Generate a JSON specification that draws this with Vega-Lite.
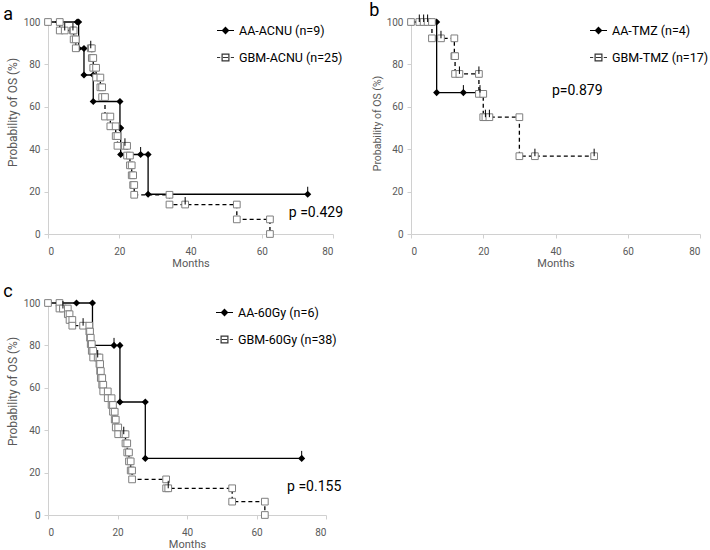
{
  "$schema": "https://vega.github.io/schema/vega-lite/v6.json",
  "background": "white",
  "padding": {"left": 3, "top": 1, "right": 2, "bottom": 0},
  "config": {
    "font": "Roboto",
    "view": {"stroke": null},
    "axis": {"grid": false, "domainColor": "#d0d0d0", "tickColor": "#d0d0d0", "tickSize": 4, "labelColor": "#595959", "labelFont": "Roboto", "labelFontSize": 10, "titleColor": "#595959", "titleFont": "Roboto", "titleFontWeight": "normal"},
    "axisX": {"labelPadding": 8, "titlePadding": 1, "titleFontSize": 11},
    "axisY": {"labelPadding": 4, "titlePadding": 4, "titleFontSize": 12},
    "title": {"anchor": "start", "frame": "bounds", "fontSize": 18, "fontWeight": "normal", "font": "Roboto", "color": "black", "offset": -7},
    "legend": {"orient": "none", "title": null, "padding": 0, "symbolSize": 289, "labelFont": "Roboto", "labelFontSize": 12.5, "labelColor": "black", "labelOffset": 4, "rowPadding": 11, "symbolStrokeColor": "black", "symbolStrokeWidth": 1.2, "symbolOpacity": 1}
  },
  "resolve": {"scale": {"shape": "independent", "fill": "independent", "stroke": "independent", "strokeDash": "independent", "x": "independent", "y": "independent"}, "legend": {"shape": "independent", "fill": "independent", "stroke": "independent"}},
  "datasets": {
    "km": [
      {"p":"a","g":"AA","t":0,"s":100,"c":0},
      {"p":"a","g":"AA","t":8.2,"s":100,"c":0},
      {"p":"a","g":"AA","t":8.6,"s":100,"c":0},
      {"p":"a","g":"AA","t":8.6,"s":87.5,"c":0},
      {"p":"a","g":"AA","t":10.1,"s":87.5,"c":0},
      {"p":"a","g":"AA","t":10.1,"s":75,"c":0},
      {"p":"a","g":"AA","t":12.7,"s":75,"c":0},
      {"p":"a","g":"AA","t":12.7,"s":62.5,"c":0},
      {"p":"a","g":"AA","t":20.2,"s":62.5,"c":0},
      {"p":"a","g":"AA","t":20.2,"s":50,"c":0},
      {"p":"a","g":"AA","t":20.4,"s":50,"c":0},
      {"p":"a","g":"AA","t":20.4,"s":37.5,"c":0},
      {"p":"a","g":"AA","t":26,"s":37.5,"c":1},
      {"p":"a","g":"AA","t":28.1,"s":37.5,"c":0},
      {"p":"a","g":"AA","t":28.1,"s":18.75,"c":0},
      {"p":"a","g":"AA","t":72.9,"s":18.75,"c":1},

      {"p":"a","g":"GBM","t":0,"s":100,"c":0},
      {"p":"a","g":"GBM","t":3.3,"s":100,"c":0},
      {"p":"a","g":"GBM","t":3.3,"s":96,"c":0},
      {"p":"a","g":"GBM","t":4.7,"s":96,"c":1},
      {"p":"a","g":"GBM","t":7.0,"s":96,"c":1},
      {"p":"a","g":"GBM","t":7.2,"s":96,"c":0},
      {"p":"a","g":"GBM","t":7.2,"s":91.8,"c":0},
      {"p":"a","g":"GBM","t":7.8,"s":91.8,"c":0},
      {"p":"a","g":"GBM","t":7.8,"s":87.6,"c":0},
      {"p":"a","g":"GBM","t":12.0,"s":87.6,"c":1},
      {"p":"a","g":"GBM","t":12.3,"s":87.6,"c":0},
      {"p":"a","g":"GBM","t":12.3,"s":83.0,"c":0},
      {"p":"a","g":"GBM","t":12.7,"s":83.0,"c":0},
      {"p":"a","g":"GBM","t":12.7,"s":78.4,"c":0},
      {"p":"a","g":"GBM","t":13.5,"s":78.4,"c":0},
      {"p":"a","g":"GBM","t":13.5,"s":73.8,"c":0},
      {"p":"a","g":"GBM","t":14.7,"s":73.8,"c":0},
      {"p":"a","g":"GBM","t":14.7,"s":69.2,"c":0},
      {"p":"a","g":"GBM","t":15.2,"s":69.2,"c":0},
      {"p":"a","g":"GBM","t":15.2,"s":64.6,"c":0},
      {"p":"a","g":"GBM","t":16.0,"s":64.6,"c":0},
      {"p":"a","g":"GBM","t":16.0,"s":55.4,"c":0},
      {"p":"a","g":"GBM","t":17.5,"s":55.4,"c":0},
      {"p":"a","g":"GBM","t":17.5,"s":50.8,"c":0},
      {"p":"a","g":"GBM","t":19.0,"s":50.8,"c":0},
      {"p":"a","g":"GBM","t":19.0,"s":46.2,"c":0},
      {"p":"a","g":"GBM","t":19.5,"s":46.2,"c":0},
      {"p":"a","g":"GBM","t":19.5,"s":41.6,"c":0},
      {"p":"a","g":"GBM","t":21.6,"s":41.6,"c":1},
      {"p":"a","g":"GBM","t":22.2,"s":41.6,"c":0},
      {"p":"a","g":"GBM","t":22.2,"s":37.0,"c":0},
      {"p":"a","g":"GBM","t":23.0,"s":37.0,"c":0},
      {"p":"a","g":"GBM","t":23.0,"s":32.4,"c":0},
      {"p":"a","g":"GBM","t":23.5,"s":32.4,"c":0},
      {"p":"a","g":"GBM","t":23.5,"s":27.7,"c":0},
      {"p":"a","g":"GBM","t":23.9,"s":27.7,"c":0},
      {"p":"a","g":"GBM","t":23.9,"s":23.1,"c":0},
      {"p":"a","g":"GBM","t":24.2,"s":23.1,"c":0},
      {"p":"a","g":"GBM","t":24.2,"s":18.5,"c":0},
      {"p":"a","g":"GBM","t":34.1,"s":18.5,"c":0},
      {"p":"a","g":"GBM","t":34.1,"s":13.9,"c":0},
      {"p":"a","g":"GBM","t":38.5,"s":13.9,"c":1},
      {"p":"a","g":"GBM","t":53.0,"s":13.9,"c":0},
      {"p":"a","g":"GBM","t":53.0,"s":6.9,"c":0},
      {"p":"a","g":"GBM","t":62.3,"s":6.9,"c":0},
      {"p":"a","g":"GBM","t":62.3,"s":0,"c":0},

      {"p":"b","g":"AA","t":0,"s":100,"c":0},
      {"p":"b","g":"AA","t":7.1,"s":100,"c":0},
      {"p":"b","g":"AA","t":7.1,"s":66.7,"c":0},
      {"p":"b","g":"AA","t":14.5,"s":66.7,"c":1},
      {"p":"b","g":"AA","t":19.1,"s":66.7,"c":1},

      {"p":"b","g":"GBM","t":0,"s":100,"c":0},
      {"p":"b","g":"GBM","t":2.3,"s":100,"c":1},
      {"p":"b","g":"GBM","t":3.5,"s":100,"c":1},
      {"p":"b","g":"GBM","t":4.6,"s":100,"c":1},
      {"p":"b","g":"GBM","t":5.8,"s":100,"c":0},
      {"p":"b","g":"GBM","t":5.8,"s":92.3,"c":0},
      {"p":"b","g":"GBM","t":8.3,"s":92.3,"c":1},
      {"p":"b","g":"GBM","t":12.0,"s":92.3,"c":0},
      {"p":"b","g":"GBM","t":12.0,"s":83.9,"c":0},
      {"p":"b","g":"GBM","t":12.2,"s":83.9,"c":0},
      {"p":"b","g":"GBM","t":12.2,"s":75.5,"c":0},
      {"p":"b","g":"GBM","t":13.4,"s":75.5,"c":1},
      {"p":"b","g":"GBM","t":18.8,"s":75.5,"c":1},
      {"p":"b","g":"GBM","t":18.8,"s":66.1,"c":0},
      {"p":"b","g":"GBM","t":20.0,"s":66.1,"c":0},
      {"p":"b","g":"GBM","t":20.0,"s":55.1,"c":0},
      {"p":"b","g":"GBM","t":20.6,"s":55.1,"c":1},
      {"p":"b","g":"GBM","t":21.7,"s":55.1,"c":1},
      {"p":"b","g":"GBM","t":30.0,"s":55.1,"c":0},
      {"p":"b","g":"GBM","t":30.0,"s":36.7,"c":0},
      {"p":"b","g":"GBM","t":34.3,"s":36.7,"c":1},
      {"p":"b","g":"GBM","t":50.7,"s":36.7,"c":1},

      {"p":"c","g":"AA","t":0,"s":100,"c":0},
      {"p":"c","g":"AA","t":8.2,"s":100,"c":0},
      {"p":"c","g":"AA","t":12.8,"s":100,"c":0},
      {"p":"c","g":"AA","t":12.8,"s":80,"c":0},
      {"p":"c","g":"AA","t":19.0,"s":80,"c":1},
      {"p":"c","g":"AA","t":20.7,"s":80,"c":0},
      {"p":"c","g":"AA","t":20.7,"s":53.3,"c":0},
      {"p":"c","g":"AA","t":28.0,"s":53.3,"c":0},
      {"p":"c","g":"AA","t":28.0,"s":26.7,"c":0},
      {"p":"c","g":"AA","t":73.0,"s":26.7,"c":1},

      {"p":"c","g":"GBM","t":0,"s":100,"c":0},
      {"p":"c","g":"GBM","t":3.3,"s":100,"c":0},
      {"p":"c","g":"GBM","t":3.3,"s":97.4,"c":0},
      {"p":"c","g":"GBM","t":4.3,"s":97.4,"c":1},
      {"p":"c","g":"GBM","t":5.7,"s":97.4,"c":0},
      {"p":"c","g":"GBM","t":5.7,"s":94.7,"c":0},
      {"p":"c","g":"GBM","t":6.2,"s":94.7,"c":0},
      {"p":"c","g":"GBM","t":6.2,"s":92.0,"c":0},
      {"p":"c","g":"GBM","t":7.0,"s":92.0,"c":0},
      {"p":"c","g":"GBM","t":7.0,"s":89.3,"c":0},
      {"p":"c","g":"GBM","t":10.1,"s":89.3,"c":1},
      {"p":"c","g":"GBM","t":11.9,"s":89.3,"c":0},
      {"p":"c","g":"GBM","t":11.9,"s":86.5,"c":0},
      {"p":"c","g":"GBM","t":12.1,"s":86.5,"c":0},
      {"p":"c","g":"GBM","t":12.1,"s":83.6,"c":0},
      {"p":"c","g":"GBM","t":12.3,"s":83.6,"c":0},
      {"p":"c","g":"GBM","t":12.3,"s":80.6,"c":0},
      {"p":"c","g":"GBM","t":12.6,"s":80.6,"c":0},
      {"p":"c","g":"GBM","t":12.6,"s":77.4,"c":0},
      {"p":"c","g":"GBM","t":13.0,"s":77.4,"c":0},
      {"p":"c","g":"GBM","t":13.0,"s":74.3,"c":0},
      {"p":"c","g":"GBM","t":14.3,"s":74.3,"c":1},
      {"p":"c","g":"GBM","t":14.8,"s":74.3,"c":0},
      {"p":"c","g":"GBM","t":14.8,"s":71.2,"c":0},
      {"p":"c","g":"GBM","t":15.0,"s":71.2,"c":0},
      {"p":"c","g":"GBM","t":15.0,"s":67.9,"c":0},
      {"p":"c","g":"GBM","t":15.2,"s":67.9,"c":0},
      {"p":"c","g":"GBM","t":15.2,"s":64.6,"c":0},
      {"p":"c","g":"GBM","t":15.6,"s":64.6,"c":0},
      {"p":"c","g":"GBM","t":15.6,"s":61.4,"c":0},
      {"p":"c","g":"GBM","t":15.9,"s":61.4,"c":0},
      {"p":"c","g":"GBM","t":15.9,"s":58.3,"c":0},
      {"p":"c","g":"GBM","t":17.2,"s":58.3,"c":0},
      {"p":"c","g":"GBM","t":17.2,"s":55.1,"c":0},
      {"p":"c","g":"GBM","t":18.3,"s":55.1,"c":0},
      {"p":"c","g":"GBM","t":18.3,"s":51.9,"c":0},
      {"p":"c","g":"GBM","t":18.7,"s":51.9,"c":0},
      {"p":"c","g":"GBM","t":18.7,"s":48.7,"c":0},
      {"p":"c","g":"GBM","t":19.2,"s":48.7,"c":0},
      {"p":"c","g":"GBM","t":19.2,"s":45.0,"c":0},
      {"p":"c","g":"GBM","t":19.5,"s":45.0,"c":0},
      {"p":"c","g":"GBM","t":19.5,"s":41.3,"c":0},
      {"p":"c","g":"GBM","t":20.2,"s":41.3,"c":0},
      {"p":"c","g":"GBM","t":20.2,"s":38.1,"c":0},
      {"p":"c","g":"GBM","t":21.8,"s":38.1,"c":1},
      {"p":"c","g":"GBM","t":22.3,"s":38.1,"c":0},
      {"p":"c","g":"GBM","t":22.3,"s":33.8,"c":0},
      {"p":"c","g":"GBM","t":22.8,"s":33.8,"c":0},
      {"p":"c","g":"GBM","t":22.8,"s":29.5,"c":0},
      {"p":"c","g":"GBM","t":23.3,"s":29.5,"c":0},
      {"p":"c","g":"GBM","t":23.3,"s":25.3,"c":0},
      {"p":"c","g":"GBM","t":23.8,"s":25.3,"c":0},
      {"p":"c","g":"GBM","t":23.8,"s":21.0,"c":0},
      {"p":"c","g":"GBM","t":24.2,"s":21.0,"c":0},
      {"p":"c","g":"GBM","t":24.2,"s":16.8,"c":0},
      {"p":"c","g":"GBM","t":34.0,"s":16.8,"c":0},
      {"p":"c","g":"GBM","t":34.0,"s":12.6,"c":0},
      {"p":"c","g":"GBM","t":34.6,"s":12.6,"c":1},
      {"p":"c","g":"GBM","t":53.0,"s":12.6,"c":0},
      {"p":"c","g":"GBM","t":53.0,"s":6.3,"c":0},
      {"p":"c","g":"GBM","t":62.4,"s":6.3,"c":0},
      {"p":"c","g":"GBM","t":62.4,"s":0,"c":0}
    ],
    "leg": [
      {"p":"a","lab":"AA-ACNU (n=9)"},
      {"p":"a","lab":"GBM-ACNU (n=25)"},
      {"p":"b","lab":"AA-TMZ (n=4)"},
      {"p":"b","lab":"GBM-TMZ (n=17)"},
      {"p":"c","lab":"AA-60Gy (n=6)"},
      {"p":"c","lab":"GBM-60Gy (n=38)"}
    ]
  },
  "vconcat": [
    {
      "resolve": {"scale": {"shape": "independent", "fill": "independent", "stroke": "independent", "strokeDash": "independent", "x": "independent", "y": "independent"}, "legend": {"shape": "independent", "fill": "independent", "stroke": "independent"}},
      "hconcat": [
        {
          "width": 285, "height": 212,
          "title": {"text": "a", "dx": -3},
          "layer": [
            {"data": {"name": "km"}, "transform": [{"filter": "datum.p == 'a'"}],
             "mark": {"type": "line", "color": "black", "strokeWidth": 1.3},
             "encoding": {
               "x": {"field": "t", "type": "quantitative", "scale": {"domain": [0, 80], "nice": false}, "axis": {"title": "Months", "values": [0, 20, 40, 60, 80]}},
               "y": {"field": "s", "type": "quantitative", "scale": {"domain": [0, 100], "nice": false}, "axis": {"title": "Probability of OS (%)", "titleY": 90, "values": [0, 10, 20, 30, 40, 50, 60, 70, 80, 90, 100]}},
               "strokeDash": {"field": "g", "type": "nominal", "scale": {"domain": ["AA", "GBM"], "range": [[1, 0], [4, 3]]}, "legend": null},
               "order": {"value": null}
             }},
            {"data": {"name": "km"}, "transform": [{"filter": "datum.p == 'a' && datum.g == 'AA'"}],
             "mark": {"type": "point", "shape": "diamond", "filled": true, "color": "black", "size": 50, "opacity": 1},
             "encoding": {"x": {"field": "t", "type": "quantitative"}, "y": {"field": "s", "type": "quantitative"}}},
            {"data": {"name": "km"}, "transform": [{"filter": "datum.p == 'a' && datum.g == 'GBM'"}],
             "mark": {"type": "point", "shape": "square", "filled": true, "fill": "white", "stroke": "#7f7f7f", "strokeWidth": 1, "size": 45, "opacity": 1},
             "encoding": {"x": {"field": "t", "type": "quantitative"}, "y": {"field": "s", "type": "quantitative"}}},
            {"data": {"name": "km"}, "transform": [{"filter": "datum.p == 'a' && datum.c == 1"}],
             "mark": {"type": "point", "shape": "M0,0V-1", "filled": false, "stroke": "black", "strokeWidth": 1, "size": 225, "opacity": 1},
             "encoding": {"x": {"field": "t", "type": "quantitative"}, "y": {"field": "s", "type": "quantitative"}}},
            {"data": {"values": [{}]},
             "mark": {"type": "text", "align": "left", "baseline": "middle", "fontSize": 14, "font": "Roboto", "color": "black"},
             "encoding": {"x": {"datum": 67.6}, "y": {"datum": 10}, "text": {"value": "p =0.429"}}},
            {"data": {"name": "leg"}, "transform": [{"filter": "datum.p == 'a'"}, {"filter": "false"}],
             "mark": {"type": "point", "filled": true, "strokeWidth": 1.2, "opacity": 1},
             "encoding": {
               "shape": {"field": "lab", "type": "nominal", "scale": {"domain": ["AA-ACNU (n=9)", "GBM-ACNU (n=25)"], "range": ["M-1,0H1M0,-0.36L0.36,0L0,0.36L-0.36,0Z", "M-1,0H-0.62M-0.3,0H0.3M0.62,0H1M-0.4,-0.4H0.4V0.4H-0.4Z"]}, "legend": {"legendX": 168, "legendY": -1}},
               "fill": {"field": "lab", "type": "nominal", "scale": {"domain": ["AA-ACNU (n=9)", "GBM-ACNU (n=25)"], "range": ["black", "white"]}, "legend": {"legendX": 168, "legendY": -1}},
               "stroke": {"field": "lab", "type": "nominal", "scale": {"domain": ["AA-ACNU (n=9)", "GBM-ACNU (n=25)"], "range": ["black", "#333333"]}, "legend": {"legendX": 168, "legendY": -1}}
             }}
          ]
        },
        {
          "width": 289, "height": 212,
          "title": {"text": "b", "dx": -3},
          "layer": [
            {"data": {"name": "km"}, "transform": [{"filter": "datum.p == 'b'"}],
             "mark": {"type": "line", "color": "black", "strokeWidth": 1.3},
             "encoding": {
               "x": {"field": "t", "type": "quantitative", "scale": {"domain": [0, 80], "nice": false}, "axis": {"title": "Months", "values": [0, 20, 40, 60, 80]}},
               "y": {"field": "s", "type": "quantitative", "scale": {"domain": [0, 100], "nice": false}, "axis": {"title": "Probability of OS (%)", "titleFontSize": 10.5, "titleY": 101, "values": [0, 10, 20, 30, 40, 50, 60, 70, 80, 90, 100]}},
               "strokeDash": {"field": "g", "type": "nominal", "scale": {"domain": ["AA", "GBM"], "range": [[1, 0], [4, 3]]}, "legend": null},
               "order": {"value": null}
             }},
            {"data": {"name": "km"}, "transform": [{"filter": "datum.p == 'b' && datum.g == 'AA'"}],
             "mark": {"type": "point", "shape": "diamond", "filled": true, "color": "black", "size": 50, "opacity": 1},
             "encoding": {"x": {"field": "t", "type": "quantitative"}, "y": {"field": "s", "type": "quantitative"}}},
            {"data": {"name": "km"}, "transform": [{"filter": "datum.p == 'b' && datum.g == 'GBM'"}],
             "mark": {"type": "point", "shape": "square", "filled": true, "fill": "white", "stroke": "#7f7f7f", "strokeWidth": 1, "size": 45, "opacity": 1},
             "encoding": {"x": {"field": "t", "type": "quantitative"}, "y": {"field": "s", "type": "quantitative"}}},
            {"data": {"name": "km"}, "transform": [{"filter": "datum.p == 'b' && datum.c == 1"}],
             "mark": {"type": "point", "shape": "M0,0V-1", "filled": false, "stroke": "black", "strokeWidth": 1, "size": 225, "opacity": 1},
             "encoding": {"x": {"field": "t", "type": "quantitative"}, "y": {"field": "s", "type": "quantitative"}}},
            {"data": {"values": [{}]},
             "mark": {"type": "text", "align": "left", "baseline": "middle", "fontSize": 14, "font": "Roboto", "color": "black"},
             "encoding": {"x": {"datum": 39.0}, "y": {"datum": 67.6}, "text": {"value": "p=0.879"}}},
            {"data": {"name": "leg"}, "transform": [{"filter": "datum.p == 'b'"}, {"filter": "false"}],
             "mark": {"type": "point", "filled": true, "strokeWidth": 1.2, "opacity": 1},
             "encoding": {
               "shape": {"field": "lab", "type": "nominal", "scale": {"domain": ["AA-TMZ (n=4)", "GBM-TMZ (n=17)"], "range": ["M-1,0H1M0,-0.36L0.36,0L0,0.36L-0.36,0Z", "M-1,0H-0.62M-0.3,0H0.3M0.62,0H1M-0.4,-0.4H0.4V0.4H-0.4Z"]}, "legend": {"legendX": 178, "legendY": -1}},
               "fill": {"field": "lab", "type": "nominal", "scale": {"domain": ["AA-TMZ (n=4)", "GBM-TMZ (n=17)"], "range": ["black", "white"]}, "legend": {"legendX": 178, "legendY": -1}},
               "stroke": {"field": "lab", "type": "nominal", "scale": {"domain": ["AA-TMZ (n=4)", "GBM-TMZ (n=17)"], "range": ["black", "#333333"]}, "legend": {"legendX": 178, "legendY": -1}}
             }}
          ]
        }
      ],
      "spacing": 25
    },
    {
      "width": 278, "height": 212,
      "title": {"text": "c", "dx": -3, "dy": -4},
      "layer": [
        {"data": {"name": "km"}, "transform": [{"filter": "datum.p == 'c'"}],
         "mark": {"type": "line", "color": "black", "strokeWidth": 1.3},
         "encoding": {
           "x": {"field": "t", "type": "quantitative", "scale": {"domain": [0, 80], "nice": false}, "axis": {"title": "Months", "values": [0, 20, 40, 60, 80]}},
           "y": {"field": "s", "type": "quantitative", "scale": {"domain": [0, 100], "nice": false}, "axis": {"title": "Probability of OS (%)", "titleY": 88, "values": [0, 10, 20, 30, 40, 50, 60, 70, 80, 90, 100]}},
           "strokeDash": {"field": "g", "type": "nominal", "scale": {"domain": ["AA", "GBM"], "range": [[1, 0], [4, 3]]}, "legend": null},
           "order": {"value": null}
         }},
        {"data": {"name": "km"}, "transform": [{"filter": "datum.p == 'c' && datum.g == 'AA'"}],
         "mark": {"type": "point", "shape": "diamond", "filled": true, "color": "black", "size": 50, "opacity": 1},
         "encoding": {"x": {"field": "t", "type": "quantitative"}, "y": {"field": "s", "type": "quantitative"}}},
        {"data": {"name": "km"}, "transform": [{"filter": "datum.p == 'c' && datum.g == 'GBM'"}],
         "mark": {"type": "point", "shape": "square", "filled": true, "fill": "white", "stroke": "#7f7f7f", "strokeWidth": 1, "size": 45, "opacity": 1},
         "encoding": {"x": {"field": "t", "type": "quantitative"}, "y": {"field": "s", "type": "quantitative"}}},
        {"data": {"name": "km"}, "transform": [{"filter": "datum.p == 'c' && datum.c == 1"}],
         "mark": {"type": "point", "shape": "M0,0V-1", "filled": false, "stroke": "black", "strokeWidth": 1, "size": 225, "opacity": 1},
         "encoding": {"x": {"field": "t", "type": "quantitative"}, "y": {"field": "s", "type": "quantitative"}}},
        {"data": {"values": [{}]},
         "mark": {"type": "text", "align": "left", "baseline": "middle", "fontSize": 14, "font": "Roboto", "color": "black"},
         "encoding": {"x": {"datum": 68.8}, "y": {"datum": 13.2}, "text": {"value": "p =0.155"}}},
        {"data": {"name": "leg"}, "transform": [{"filter": "datum.p == 'c'"}, {"filter": "false"}],
         "mark": {"type": "point", "filled": true, "strokeWidth": 1.2, "opacity": 1},
         "encoding": {
           "shape": {"field": "lab", "type": "nominal", "scale": {"domain": ["AA-60Gy (n=6)", "GBM-60Gy (n=38)"], "range": ["M-1,0H1M0,-0.36L0.36,0L0,0.36L-0.36,0Z", "M-1,0H-0.62M-0.3,0H0.3M0.62,0H1M-0.4,-0.4H0.4V0.4H-0.4Z"]}, "legend": {"legendX": 167, "legendY": 0}},
           "fill": {"field": "lab", "type": "nominal", "scale": {"domain": ["AA-60Gy (n=6)", "GBM-60Gy (n=38)"], "range": ["black", "white"]}, "legend": {"legendX": 167, "legendY": 0}},
           "stroke": {"field": "lab", "type": "nominal", "scale": {"domain": ["AA-60Gy (n=6)", "GBM-60Gy (n=38)"], "range": ["black", "#333333"]}, "legend": {"legendX": 167, "legendY": 0}}
         }}
      ]
    }
  ],
  "spacing": 14
}
